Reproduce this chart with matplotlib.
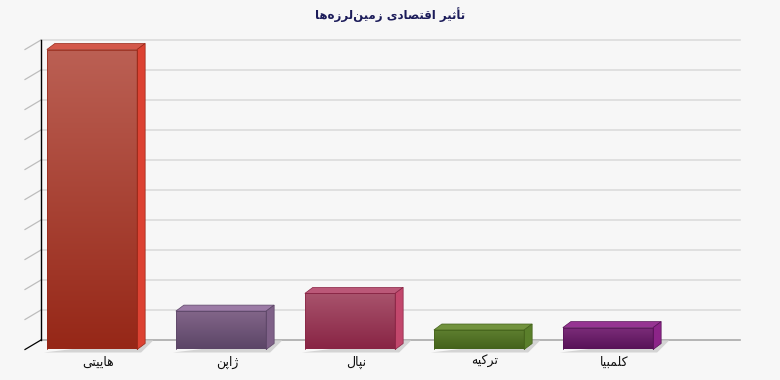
import numpy as np
import matplotlib
matplotlib.use("Agg")
import matplotlib.pyplot as plt
from matplotlib.patches import Polygon
from matplotlib.colors import LinearSegmentedColormap

# data
title = "تأثیر اقتصادی زمین\u200cلرزه\u200cها"
countries = ["هاییتی", "ژاپن", "نپال", "ترکیه", "کلمبیا"]
impact = [100, 12.8, 18.7, 6.5, 7.3]

# colours: front top, front bottom, top face, side face
front_top = ["#bb6054", "#83668a", "#a9546d", "#5f8030", "#7c2d7a"]
front_bot = ["#962717", "#5b4566", "#882444", "#44621b", "#571257"]
top_col = ["#d3584a", "#9c7ba6", "#bb5878", "#72933e", "#963492"]
side_col = ["#dc4232", "#7f6188", "#c2476c", "#5a7f2b", "#8c2488"]

# minimal arabic/persian shaping (no reshaper lib in the sandbox)
FORMS = {
    "\u0627": ("\uFE8D", "\uFE8E", None, None),
    "\u0623": ("\uFE83", "\uFE84", None, None),
    "\u062F": ("\uFEA9", "\uFEAA", None, None),
    "\u0631": ("\uFEAD", "\uFEAE", None, None),
    "\u0632": ("\uFEAF", "\uFEB0", None, None),
    "\u0698": ("\uFB8A", "\uFB8B", None, None),
    "\u0628": ("\uFE8F", "\uFE90", "\uFE91", "\uFE92"),
    "\u062A": ("\uFE95", "\uFE96", "\uFE97", "\uFE98"),
    "\u062B": ("\uFE99", "\uFE9A", "\uFE9B", "\uFE9C"),
    "\u0635": ("\uFEB9", "\uFEBA", "\uFEBB", "\uFEBC"),
    "\u0642": ("\uFED5", "\uFED6", "\uFED7", "\uFED8"),
    "\u0644": ("\uFEDD", "\uFEDE", "\uFEDF", "\uFEE0"),
    "\u0645": ("\uFEE1", "\uFEE2", "\uFEE3", "\uFEE4"),
    "\u0646": ("\uFEE5", "\uFEE6", "\uFEE7", "\uFEE8"),
    "\u0647": ("\uFEE9", "\uFEEA", "\uFEEB", "\uFEEC"),
    "\u067E": ("\uFB56", "\uFB57", "\uFB58", "\uFB59"),
    "\u06A9": ("\uFB8E", "\uFB8F", "\uFB90", "\uFB91"),
    "\u0643": ("\uFED9", "\uFEDA", "\uFEDB", "\uFEDC"),
    "\u06CC": ("\uFBFC", "\uFBFD", "\uFBFE", "\uFBFF"),
    "\u064A": ("\uFEF1", "\uFEF2", "\uFEF3", "\uFEF4"),
}


def shape(s):
    out = []
    for i, c in enumerate(s):
        if c not in FORMS:
            out.append(c)
            continue
        prev = s[i - 1] if i > 0 else None
        nxt = s[i + 1] if i + 1 < len(s) else None
        jp = prev in FORMS and FORMS[prev][2] is not None
        jn = FORMS[c][2] is not None and nxt in FORMS
        f = FORMS[c]
        if jp and jn:
            out.append(f[3])
        elif jp:
            out.append(f[1])
        elif jn:
            out.append(f[2])
        else:
            out.append(f[0])
    return "".join(out).replace("\u200c", "")[::-1]


plt.rcParams["font.family"] = ["DejaVu Sans"]
BG = "#f7f7f7"
fig = plt.figure(figsize=(7.8, 3.8), dpi=100, facecolor=BG)

# front plane of the box: 129 px per category, 3 px per unit
PXX, PXY = 129.0, 3.0
xmin, xmax = (25 - 92) / PXX, (724 - 92) / PXX
ax = fig.add_axes([25 / 780, 30.5 / 380, 699 / 780, 300 / 380])
ax.set_facecolor(BG)
ax.axis("off")

wdx, wdy = 16 / PXX, 9.5 / PXY   # wall depth
bdx, bdy = 8 / PXX, 6 / PXY      # bar depth

# back wall grid
for v in range(0, 101, 10):
    col = "#a9a9a9" if v == 0 else "#dcdcdc"
    ax.plot([xmin + wdx, xmax + wdx], [v + wdy, v + wdy], color=col, lw=1.2, zorder=1,
            clip_on=False)
    ax.plot([xmin, xmin + wdx], [v, v + wdy], color="black" if v == 0 else "#bdbdbd",
            lw=0.9, zorder=2, clip_on=False)
ax.plot([xmin + wdx, xmin + wdx], [wdy, 100 + wdy], color="black", lw=1, zorder=2,
        clip_on=False)

x = np.arange(len(countries))
width = 0.7
bars = ax.bar(x, impact, width=width, color="none", edgecolor="none", zorder=4)

grad = np.linspace(0, 1, 256).reshape(-1, 1)
for i, b in enumerate(bars):
    x0, x1, v = b.get_x(), b.get_x() + width, b.get_height()
    # floor shadow
    ax.add_patch(Polygon([(x0 - 3 / PXX, -1.0), (x1 + 4 / PXX, -1.0),
                          (x1 + 16 / PXX, 3.0), (x1 + 6 / PXX, 3.0)],
                         closed=True, color="#d4d4d4", lw=0, zorder=2, clip_on=False))
    cmap = LinearSegmentedColormap.from_list("g%d" % i, [front_bot[i], front_top[i]])
    im = ax.imshow(grad, extent=[x0, x1, 0, v], origin="lower", aspect="auto",
                   cmap=cmap, zorder=4)
    im.set_clip_path(b)
    ax.add_patch(Polygon([(x0, v), (x1, v), (x1 + bdx, v + bdy), (x0 + bdx, v + bdy)],
                         closed=True, facecolor=top_col[i], edgecolor=front_bot[i],
                         lw=0.5, zorder=5, clip_on=False))
    ax.add_patch(Polygon([(x1, 0), (x1, v), (x1 + bdx, v + bdy), (x1 + bdx, bdy)],
                         closed=True, facecolor=side_col[i], edgecolor=front_bot[i],
                         lw=0.5, zorder=5, clip_on=False))
    ax.add_patch(Polygon([(x0, 0), (x1, 0), (x1, v), (x0, v)], closed=True,
                         facecolor="none", edgecolor=front_bot[i], lw=0.5, zorder=5))
    ax.text(b.get_x() + width / 2 + 6 / PXX, -12.5 / PXY, shape(countries[i]),
            ha="center", va="center", fontsize=9, color="#111111", clip_on=False)

ax.set_xlim(xmin, xmax)
ax.set_ylim(0, 100)

fig.text(0.5, 1 - 15 / 380, shape(title), ha="center", va="center", fontsize=8.5,
         fontweight="bold", color="#1c1c5a")

fig.savefig("out.png", dpi=100, facecolor=BG)
